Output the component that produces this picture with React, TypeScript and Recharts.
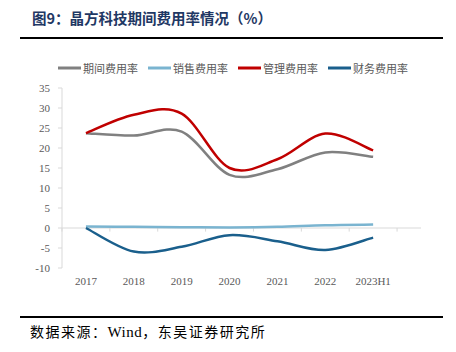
import React from 'react';
import { LineChart, Line, XAxis, YAxis, ReferenceLine } from 'recharts';

const categories = ['2017', '2018', '2019', '2020', '2021', '2022', '2023H1'];
const periodRate = [23.7, 23.1, 24.1, 13.3, 14.7, 18.9, 17.8];
const salesRate = [0.35, 0.3, 0.2, 0.15, 0.3, 0.7, 0.85];
const adminRate = [23.7, 28.3, 28.6, 15.0, 17.2, 23.6, 19.4];
const financeRate = [0.0, -5.9, -4.7, -1.8, -3.3, -5.5, -2.4];
const yTicks = [-10, -5, 0, 5, 10, 15, 20, 25, 30, 35];

const seriesNames = ['期间费用率', '销售费用率', '管理费用率', '财务费用率'];
const seriesKeys = ['period', 'sales', 'admin', 'finance'];
const seriesColors = ['#808080', '#7ab4d0', '#c00000', '#1a5f8c'];

const data = categories.map((c, i) => ({
  i,
  cat: c,
  period: periodRate[i],
  sales: salesRate[i],
  admin: adminRate[i],
  finance: financeRate[i],
}));

const boundaries = categories.map((_, i) => i - 0.5).concat([categories.length - 0.5]);

// Catmull-Rom style smoothing similar to spreadsheet smoothed lines
function smoothCurve(context: any) {
  let pts: number[][] = [];
  return {
    areaStart() {},
    areaEnd() {},
    lineStart() {
      pts = [];
    },
    point(x: number, y: number) {
      pts.push([+x, +y]);
    },
    lineEnd() {
      if (!pts.length) return;
      context.moveTo(pts[0][0], pts[0][1]);
      for (let k = 0; k < pts.length - 1; k++) {
        const p0 = pts[k - 1] || pts[k];
        const p1 = pts[k];
        const p2 = pts[k + 1];
        const p3 = pts[k + 2] || p2;
        context.bezierCurveTo(
          p1[0] + (p2[0] - p0[0]) / 6,
          p1[1] + (p2[1] - p0[1]) / 6,
          p2[0] - (p3[0] - p1[0]) / 6,
          p2[1] - (p3[1] - p1[1]) / 6,
          p2[0],
          p2[1]
        );
      }
    },
  };
}

const serif = '"Liberation Serif", "Times New Roman", serif';
const cjk = '"Noto Sans CJK SC", sans-serif';

export default function App() {
  return (
    <div style={{ position: 'absolute', left: 0, top: 0, width: 456, height: 352, background: '#fff', overflow: 'hidden' }}>
      <div
        style={{
          position: 'absolute',
          left: 32,
          top: 8,
          fontFamily: cjk,
          fontWeight: 700,
          fontSize: 14.5,
          color: '#1f3864',
          whiteSpace: 'nowrap',
          lineHeight: '20px',
        }}
      >
        图9：晶方科技期间费用率情况（%）
      </div>
      <div style={{ position: 'absolute', left: 20, top: 37, width: 423, height: 2, background: '#000' }} />

      <div
        style={{
          position: 'absolute',
          left: 58,
          top: 60,
          display: 'flex',
          alignItems: 'center',
          fontFamily: cjk,
          fontSize: 11,
          color: '#595959',
          whiteSpace: 'nowrap',
        }}
      >
        {seriesNames.map((n, k) => (
          <div key={n} style={{ display: 'flex', alignItems: 'center', marginRight: 10 }}>
            <svg width={23} height={4} style={{ marginRight: 2 }}>
              <line x1={0} y1={2} x2={23} y2={2} stroke={seriesColors[k]} strokeWidth={3} />
            </svg>
            <span style={{ lineHeight: '16px' }}>{n}</span>
          </div>
        ))}
      </div>

      <div style={{ position: 'absolute', left: 0, top: 0 }}>
        <LineChart width={456} height={352} data={data} margin={{ top: 88, right: 35, bottom: 54, left: 22 }}>
          <XAxis
            dataKey="i"
            type="number"
            domain={[-0.5, categories.length - 0.5]}
            ticks={categories.map((_, i) => i)}
            tickFormatter={(v: number) => categories[v]}
            axisLine={false}
            tickLine={false}
            tickSize={0}
            tickMargin={9}
            height={30}
            tick={{ fill: '#595959', fontSize: 11, fontFamily: serif }}
            interval={0}
            allowDecimals={false}
          />
          <YAxis
            domain={[-10, 35]}
            ticks={yTicks}
            width={40}
            axisLine={{ stroke: '#d9d9d9' }}
            tickLine={{ stroke: '#d9d9d9' }}
            tickSize={4}
            tickMargin={8}
            interval={0}
            tick={{ fill: '#595959', fontSize: 11, fontFamily: serif }}
          />
          <ReferenceLine y={0} stroke="#d9d9d9" strokeWidth={1} />
          {boundaries.map((b) => (
            <ReferenceLine
              key={'b' + b}
              segment={[
                { x: b, y: 0 },
                { x: b, y: -0.9 },
              ]}
              stroke="#d9d9d9"
              strokeWidth={1}
            />
          ))}
          {seriesKeys.map((k, idx) => (
            <Line
              key={k}
              dataKey={k}
              type={smoothCurve as any}
              stroke={seriesColors[idx]}
              strokeWidth={2.5}
              dot={false}
              activeDot={false}
              isAnimationActive={false}
            />
          ))}
        </LineChart>
      </div>

      <div style={{ position: 'absolute', left: 20, top: 316, width: 423, height: 2, background: '#000' }} />
      <div
        style={{
          position: 'absolute',
          left: 30,
          top: 321,
          fontFamily: cjk,
          fontSize: 14,
          letterSpacing: 1.5,
          color: '#000',
          whiteSpace: 'nowrap',
          lineHeight: '20px',
        }}
      >
        数据来源：<span style={{ fontFamily: serif, fontSize: 15, letterSpacing: 0.5 }}>Wind</span>，东吴证券研究所
      </div>
    </div>
  );
}
